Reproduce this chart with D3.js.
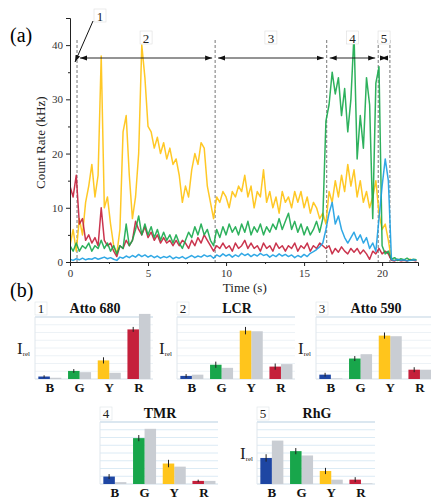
<!DOCTYPE html>
<html>
<head>
<meta charset="utf-8">
<script src="https://cdn.jsdelivr.net/npm/d3@7"></script>
<style>
  body { margin: 0; background: #fff; }
  svg, svg text { font-family: "Liberation Serif", "Times New Roman", "DejaVu Serif", serif; }
  .axis text { font-size: 11px; fill: #333; font-family: "Liberation Serif", "Times New Roman", serif; }
  .axis path, .axis line { stroke: #222; }
</style>
</head>
<body>
<div id="chart"></div>
<script>
// ---- data ----
const timeStep = 0.2; // s between samples
const yellowTrace = [3,6,2,8,5,11,14,18,12,16,38,10,12,7,3,1.5,6,24,27,16,8,12,20,40,34,25,24,21,23,20,22,19,21,18,19,16,11,14,12,17,20,18,22,21,14,11,8,12,11,13,12,10,13,12,14,13,16,12,14,10,13,12,17,11,13,10,12,9,13,11,12,10,13,11,13,10,12,9,11,10,8,9,7,13,11,15,12,16,13,18,14,17,12,15,11,13,10,12,15,9,6,7,4,0.4,0.3,0.5,0.3,0.4,0.2,0.5,0.3,0.4];
const greenTrace = [3,2,3.5,2,3,2.5,3.5,2,3,2.5,4,2.5,3.5,2,3,1.5,3,2.5,7,3,4,6,8.5,5,7,5,6.5,4.5,6,4,5.5,4,5,3.5,5,3.5,2.5,4,5.5,4.5,6.5,5,7,5,6,4,3,6,4.5,6.5,5,7,5.5,6.5,5,7,5.5,7.5,5,6.5,5.5,7,5,6.5,5.5,7,6,8,6,7.5,9,6,7.5,5.5,7,5,6.5,5,6,7.5,5.5,8,26,29,35,31,34,27,32,24,30,42,19,27,21,34,29,8,33,36,3,1.5,2,0.5,0.8,0.3,0.6,0.4,0.7,0.3,0.5,0.4];
const redTrace = [14,12,16,7,8,4,5,3.5,4.5,3,10,4,3,3.5,2,1,3,2.5,4,3,4,7.5,6,5,6.5,4.5,5.5,4,5,3.5,4.5,3.5,4,3,4,3,4,3.5,2.5,4,3,4.5,3.5,5,4,3,2,3,2.5,3.5,2.5,3,2,3.5,2.5,3,4,2.5,3.5,2.5,3,2,3.5,2.5,3,2,3.5,2.5,3,2,3,2.5,3.5,2,3,2.5,3.5,2,3,2.5,3.5,3,2.5,3,1.5,2.5,1.8,2.8,2,1.5,2.5,1.8,2.5,1.5,2.2,1.5,0.5,2,1.5,2.5,1.5,2,1.5,0.3,0.2,0.4,0.2,0.3,0.2,0.4,0.3,0.2];
const blueTrace = [0.5,0.3,0.6,0.4,0.7,0.4,0.6,0.5,0.8,0.5,0.7,0.9,0.6,0.8,0.5,0.3,0.9,0.7,1.1,0.8,1.2,0.9,1.4,1.0,1.3,0.9,1.2,0.8,1.1,0.7,1.0,0.8,1.1,0.6,0.9,0.7,1.0,0.6,0.9,1.2,0.8,1.1,0.9,1.3,1.0,1.2,0.7,1.3,1.0,1.5,1.1,1.4,0.9,1.3,1.0,1.6,1.2,1.5,1.0,1.4,1.1,1.6,1.2,1.4,0.9,1.3,1.0,1.5,1.1,1.4,1.0,1.3,0.8,1.2,0.9,1.4,1.0,1.6,1.9,2.3,2.8,3.5,6,9,11,7,8.5,6,4.5,3.5,4.5,5.5,4,5,3.5,4.5,2.5,3.5,2,8,14,19,15,0.4,0.3,0.5,0.3,0.4,0.2,0.3,0.4,0.3];

const traceColors = ['#ffc20e', '#c41f3b', '#17a94b', '#1b9fe2']; // yellow, red, green, blue

const segmentBounds = [0.45, 9.3, 16.45, 19.75, 20.5]; // dashed lines (s)
const segmentLabels = ['1', '2', '3', '4', '5'];

const xTicks = [0, 5, 10, 15, 20];
const yTicks = [0, 10, 20, 30, 40];

const channels = ['B', 'G', 'Y', 'R'];
const dyes = ['Atto 680', 'LCR', 'Atto 590', 'TMR', 'RhG'];
const measured = [
  [0.04, 0.13, 0.30, 0.80],
  [0.05, 0.23, 0.78, 0.20],
  [0.07, 0.33, 0.70, 0.15],
  [0.12, 0.74, 0.33, 0.05],
  [0.42, 0.53, 0.21, 0.07]
];
const expected = [
  [0.02, 0.11, 0.10, 1.05],
  [0.07, 0.18, 0.77, 0.24],
  [0.01, 0.40, 0.69, 0.15],
  [0.03, 0.89, 0.28, 0.05],
  [0.70, 0.46, 0.07, 0.01]
];
const errors = [
  [0.02, 0.03, 0.05, 0.04],
  [0.03, 0.05, 0.06, 0.05],
  [0.03, 0.04, 0.05, 0.04],
  [0.04, 0.05, 0.06, 0.02],
  [0.06, 0.05, 0.05, 0.04]
];
const barColors = { B: '#1e46a3', G: '#18a64b', Y: '#ffc51c', R: '#c5203b' };

// ---- svg ----
const W = 431, H = 501;
const svg = d3.select('#chart').append('svg')
  .attr('width', W)
  .attr('height', H);

// ---- panel (a): count rate traces ----
const x = d3.scaleLinear().domain([0, 22.3]).range([70, 418]);
const y = d3.scaleLinear().domain([0, 45]).range([262, 18]);

svg.append('text').attr('x', 10).attr('y', 42)
  .style('font-size', '20px').text('(a)');

// dashed segment boundaries
svg.selectAll('.bound')
  .data(segmentBounds)
  .enter().append('line')
  .attr('class', 'bound')
  .attr('x1', d => x(d)).attr('x2', d => x(d))
  .attr('y1', 40).attr('y2', y(0))
  .attr('stroke', '#777')
  .attr('stroke-width', 1)
  .attr('stroke-dasharray', '3,2');

// traces
const traces = [yellowTrace, redTrace, greenTrace, blueTrace];
const line = d3.line()
  .x((d, i) => x(i * timeStep))
  .y(d => y(d));

svg.append('clipPath').attr('id', 'clipA')
  .append('rect').attr('x', 70).attr('y', 0).attr('width', 350).attr('height', 262.5);

svg.append('g').attr('clip-path', 'url(#clipA)')
  .selectAll('path')
  .data(traces)
  .enter().append('path')
  .attr('fill', 'none')
  .attr('stroke', (d, i) => traceColors[i])
  .attr('stroke-width', 1.5)
  .attr('stroke-linejoin', 'round')
  .attr('opacity', 0.9)
  .attr('d', line);

// axes
svg.append('g')
  .attr('class', 'axis')
  .attr('transform', `translate(0,${y(0)})`)
  .call(d3.axisBottom(x).tickValues(xTicks).tickSize(4).tickFormat(d3.format('d')));
svg.append('g')
  .attr('class', 'axis')
  .attr('transform', `translate(0,${y(0)})`)
  .call(d3.axisBottom(x).tickValues([2.5, 7.5, 12.5, 17.5]).tickSize(2).tickFormat(''))
  .select('.domain').remove();

svg.append('g')
  .attr('class', 'axis')
  .attr('transform', 'translate(70,0)')
  .call(d3.axisLeft(y).tickValues(yTicks).tickSize(4).tickFormat(d3.format('d')));
svg.append('g')
  .attr('class', 'axis')
  .attr('transform', 'translate(70,0)')
  .call(d3.axisLeft(y).tickValues([5, 15, 25, 35]).tickSize(2).tickFormat(''))
  .select('.domain').remove();

svg.append('text')
  .attr('transform', `translate(45,${y(22)}) rotate(-90)`)
  .attr('text-anchor', 'middle')
  .style('font-size', '13px')
  .style('fill', '#222')
  .text('Count Rate (kHz)');

svg.append('text')
  .attr('x', x(11.2)).attr('y', 292)
  .attr('text-anchor', 'middle')
  .style('font-size', '13px')
  .style('fill', '#222')
  .text('Time (s)');

// double-headed arrows between boundaries
const defs = svg.append('defs');
defs.append('marker')
  .attr('id', 'arrowEnd')
  .attr('viewBox', '0 0 10 10')
  .attr('refX', 10).attr('refY', 5)
  .attr('markerWidth', 7).attr('markerHeight', 7)
  .attr('markerUnits', 'userSpaceOnUse')
  .attr('orient', 'auto-start-reverse')
  .append('path').attr('d', 'M0,1.5L10,5L0,8.5Z').attr('fill', '#111');

const arrowY = 58;
const spans = segmentBounds.slice(0, -1).map((b, i) => [b, segmentBounds[i + 1]]);
svg.selectAll('.span')
  .data(spans)
  .enter().append('line')
  .attr('class', 'span')
  .attr('x1', d => x(d[0]) + 3)
  .attr('x2', d => x(d[1]) - 3)
  .attr('y1', arrowY).attr('y2', arrowY)
  .attr('stroke', '#111')
  .attr('stroke-width', 0.9)
  .attr('marker-start', 'url(#arrowEnd)')
  .attr('marker-end', 'url(#arrowEnd)');

// segment number labels in small boxes
const labelPos = [
  { x: 100, y: 16 },
  { x: (x(spans[0][0]) + x(spans[0][1])) / 2, y: 38 },
  { x: (x(spans[1][0]) + x(spans[1][1])) / 2, y: 38 },
  { x: (x(spans[2][0]) + x(spans[2][1])) / 2, y: 38 },
  { x: (x(spans[3][0]) + x(spans[3][1])) / 2, y: 38 }
];
const lab = svg.selectAll('.seglab')
  .data(segmentLabels)
  .enter().append('g')
  .attr('class', 'seglab')
  .attr('transform', (d, i) => `translate(${labelPos[i].x},${labelPos[i].y})`);
lab.append('rect')
  .attr('x', -6).attr('y', -7).attr('width', 12).attr('height', 13)
  .attr('fill', '#fff').attr('stroke', '#ddd').attr('stroke-width', 0.6);
lab.append('text')
  .attr('text-anchor', 'middle').attr('y', 5)
  .style('font-size', '13px').style('fill', '#222')
  .text(d => d);

// pointer from label 1 down to the first boundary
svg.append('line')
  .attr('x1', 93).attr('y1', 21)
  .attr('x2', x(segmentBounds[0]) - 2).attr('y2', 62)
  .attr('stroke', '#111').attr('stroke-width', 1)
  .attr('marker-end', 'url(#arrowEnd)');

// ---- panel (b): relative intensity bars ----
svg.append('text').attr('x', 10).attr('y', 297)
  .style('font-size', '20px').text('(b)');

const panels = [
  { left: 35, top: 317, base: 379, ylab: 17 },
  { left: 177, top: 317, base: 379, ylab: 159 },
  { left: 316, top: 317, base: 379, ylab: 298 },
  { left: 100, top: 422, base: 484, ylab: null },
  { left: 257, top: 422, base: 484, ylab: 240 }
];
const panelW = 118;

panels.forEach((p, k) => {
  const g = svg.append('g');
  const bx = d3.scaleBand().domain(channels)
    .range([p.left, p.left + 4 * 29.7])
    .paddingInner(0.225).paddingOuter(0.1125);
  const by = d3.scaleLinear().domain([0, 1]).range([p.base, p.top]);
  const half = bx.bandwidth() / 2;

  // faint gridlines
  g.selectAll('.grid')
    .data(d3.range(0, 1.01, 0.125))
    .enter().append('line')
    .attr('x1', p.left).attr('x2', p.left + panelW)
    .attr('y1', d => by(d)).attr('y2', d => by(d))
    .attr('stroke', k < 3 ? '#e8eff4' : '#d3e6f2')
    .attr('stroke-width', 0.8);
  g.append('line')
    .attr('x1', p.left).attr('x2', p.left + panelW)
    .attr('y1', by(1)).attr('y2', by(1))
    .attr('stroke', '#c9d9e6').attr('stroke-width', 1);
  g.append('line')
    .attr('x1', p.left).attr('x2', p.left)
    .attr('y1', by(1)).attr('y2', by(0))
    .attr('stroke', '#dfe6ec').attr('stroke-width', 1);
  g.append('line')
    .attr('x1', p.left).attr('x2', p.left + panelW)
    .attr('y1', by(0)).attr('y2', by(0))
    .attr('stroke', '#dfe6ec').attr('stroke-width', 1);

  // expected (gray) bars
  g.selectAll('.exp')
    .data(channels)
    .enter().append('rect')
    .attr('x', d => bx(d) + half)
    .attr('width', half)
    .attr('y', (d, i) => by(expected[k][i]))
    .attr('height', (d, i) => by(0) - by(expected[k][i]))
    .attr('fill', '#c9cdd3');

  // measured (coloured) bars
  g.selectAll('.meas')
    .data(channels)
    .enter().append('rect')
    .attr('x', d => bx(d))
    .attr('width', half)
    .attr('y', (d, i) => by(measured[k][i]))
    .attr('height', (d, i) => by(0) - by(measured[k][i]))
    .attr('fill', d => barColors[d]);

  // error bars
  g.selectAll('.err')
    .data(channels)
    .enter().append('line')
    .attr('x1', d => bx(d) + half / 2).attr('x2', d => bx(d) + half / 2)
    .attr('y1', (d, i) => by(measured[k][i] + errors[k][i]))
    .attr('y2', (d, i) => by(Math.max(0, measured[k][i] - errors[k][i])))
    .attr('stroke', '#222').attr('stroke-width', 1);

  // channel labels
  g.selectAll('.ch')
    .data(channels)
    .enter().append('text')
    .attr('x', d => bx(d) + half)
    .attr('y', p.base + 13)
    .attr('text-anchor', 'middle')
    .style('font-size', '13px').style('font-weight', 'bold').style('fill', '#111')
    .text(d => d);

  // number box and dye name
  g.append('rect')
    .attr('x', p.left).attr('y', p.top - 15).attr('width', 12).attr('height', 13)
    .attr('fill', '#fff').attr('stroke', '#dde3e8').attr('stroke-width', 0.6);
  g.append('text')
    .attr('x', p.left + 6).attr('y', p.top - 4)
    .attr('text-anchor', 'middle')
    .style('font-size', '13px').style('fill', '#222')
    .text(k + 1);
  g.append('text')
    .attr('x', p.left + 60).attr('y', p.top - 4)
    .attr('text-anchor', 'middle')
    .style('font-size', '14px').style('font-weight', 'bold').style('fill', '#111')
    .text(dyes[k]);

  // I_rel axis label
  if (p.ylab !== null) {
    const t = g.append('text')
      .attr('x', p.ylab).attr('y', by(0.5) + 6)
      .style('fill', '#222');
    t.append('tspan').style('font-size', '17px').text('I');
    t.append('tspan').style('font-size', '7px').attr('dy', 2).text('rel');
  }
});
</script>
</body>
</html>
